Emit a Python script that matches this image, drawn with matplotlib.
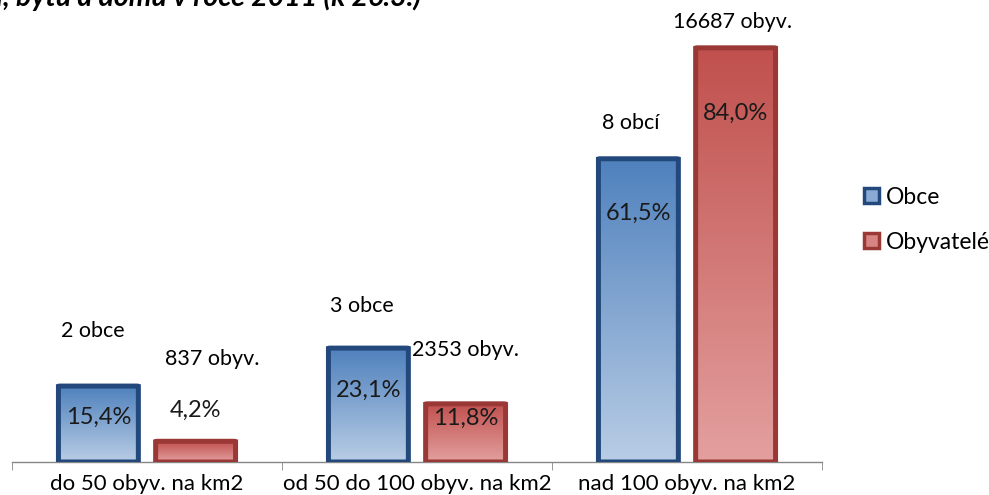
import numpy as np
import matplotlib.pyplot as plt
from matplotlib.patches import Patch, FancyBboxPatch
from matplotlib.colors import LinearSegmentedColormap

# Data
kategorie = ["do 50 obyv. na km2", "od 50 do 100 obyv. na km2", "nad 100 obyv. na km2"]
obce_pct = [15.4, 23.1, 61.5]
obyv_pct = [4.2, 11.8, 84.0]
obce_lbl = ["2 obce", "3 obce", "8 obcí"]
obyv_lbl = ["837 obyv.", "2353 obyv.", "16687 obyv."]

plt.rcParams['font.family'] = ['Lato', 'DejaVu Sans']

fig = plt.figure(figsize=(9.89, 4.95), dpi=100)
ax = fig.add_axes([12 / 989, 33 / 495, 810 / 989, 462 / 495])

x = np.arange(len(kategorie))
w = 0.296
off = 0.18

blue_cmap = LinearSegmentedColormap.from_list("b", ["#b9cde5", "#4f81bd"])
red_cmap = LinearSegmentedColormap.from_list("r", ["#e3a09f", "#c0504d"])
grad = np.linspace(0, 1, 256).reshape(-1, 1)


def gradient_bars(xs, vals, cmap, edge):
    for xi, v in zip(xs, vals):
        patch = FancyBboxPatch((xi - w / 2, 0), w, v,
                               boxstyle="round,pad=0,rounding_size=0.01",
                               mutation_aspect=5,
                               facecolor="none", edgecolor=edge,
                               linewidth=3.6, zorder=3)
        ax.add_patch(patch)
        im = ax.imshow(grad, cmap=cmap, aspect="auto", origin="lower",
                       extent=[xi - w / 2, xi + w / 2, 0, v], zorder=2)
        im.set_clip_path(patch)


gradient_bars(x - off, obce_pct, blue_cmap, "#23497c")
gradient_bars(x + off, obyv_pct, red_cmap, "#9a3836")

ax.set_xlim(-0.5, 2.5)
ax.set_ylim(0, 93.7)


def pct(v):
    return f"{v:.1f}%".replace(".", ",")


# Percent labels (offsets relative to the bar top)
pct_fs = 17
obce_dy = [-6.3, -8.5, -11.0]
obyv_dy = [6.3, -2.9, -13.2]
for i in range(3):
    ax.text(x[i] - off, obce_pct[i] + obce_dy[i], pct(obce_pct[i]),
            ha="center", va="center", fontsize=pct_fs, color="#1a1a1a", zorder=5)
    ax.text(x[i] + off, obyv_pct[i] + obyv_dy[i], pct(obyv_pct[i]),
            ha="center", va="center", fontsize=pct_fs, color="#1a1a1a", zorder=5)

# Count labels above the bars
lbl_fs = 15.5
obce_lx = [-0.019, -0.026, -0.03]
obce_ly = [11.2, 8.5, 7.3]
obyv_lx = [0.06, 0.0, -0.01]
obyv_ly = [16.7, 10.9, 5.2]
for i in range(3):
    ax.text(x[i] - off + obce_lx[i], obce_pct[i] + obce_ly[i], obce_lbl[i],
            ha="center", va="center", fontsize=lbl_fs)
    ax.text(x[i] + off + obyv_lx[i], obyv_pct[i] + obyv_ly[i], obyv_lbl[i],
            ha="center", va="center", fontsize=lbl_fs)

# Axes styling
for s in ["top", "right", "left"]:
    ax.spines[s].set_visible(False)
ax.spines["bottom"].set_color("#868686")
ax.spines["bottom"].set_linewidth(1)
ax.set_yticks([])
ax.set_xticks(x)
ax.set_xticklabels(kategorie, fontsize=16)
ax.tick_params(axis="x", which="major", length=0, pad=9)
ax.set_xticks([-0.5, 0.5, 1.5, 2.5], minor=True)
ax.tick_params(axis="x", which="minor", length=6, color="#868686")

# Legend
handles = [Patch(facecolor="#8aa9d4", edgecolor="#23497c", linewidth=2.5, label="Obce"),
           Patch(facecolor="#d68584", edgecolor="#9a3836", linewidth=2.5, label="Obyvatelé")]
fig.legend(handles=handles, loc="center left", bbox_to_anchor=(0.862, 0.556),
           frameon=False, fontsize=16.5, handlelength=0.65, handleheight=0.65,
           handletextpad=0.3, labelspacing=1.05, borderpad=0)

# Cut-off title at the top
fig.text(-0.004, 1 - 6 / 495, "í, bytů a domů v roce 2011 (k 26.3.)", ha="left", va="baseline",
         fontsize=20.5, fontweight="bold", fontstyle="italic")

fig.savefig("out.png", dpi=100)
